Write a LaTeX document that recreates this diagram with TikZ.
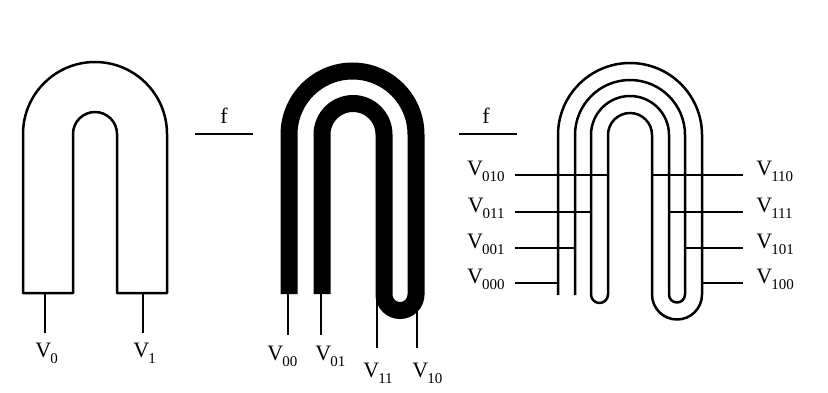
\documentclass[tikz,border=0pt]{standalone}
\usepackage{fontspec}
\setmainfont{Liberation Serif}
\usetikzlibrary{positioning}
\newcommand{\Vn}[1]{V\kern-0.5pt\raisebox{-3pt}{\fontsize{7.5}{9}\selectfont #1}}

\begin{document}
\begin{tikzpicture}[
    x=0.5pt, y=0.5pt,
    outline/.style={line width=1.25pt, line join=round},
    band/.style={line width=8.5pt},
    lead/.style={line width=0.8pt},
    vlabel/.style={inner sep=0pt, font=\fontsize{11}{13}\selectfont},
    maparrow/.style={line width=0.9pt},
]
\useasboundingbox (0,0) rectangle (828,392);

% plain strip
\draw[outline] (23,99) -- (23,258) arc[start angle=180, end angle=0, radius=72] -- (167,99) -- (117,99)
    -- (117,258) arc[start angle=0, end angle=180, radius=22] -- (73,99) -- cycle;
\coordinate (t0) at (45,99);   \coordinate (e0) at (45,59);
\coordinate (t1) at (143,99);  \coordinate (e1) at (143,59);
\node[vlabel, anchor=base west] (v0) at (35,35) {\Vn{0}};
\node[vlabel, anchor=base west] (v1) at (133,35) {\Vn{1}};
\draw[lead] (t0) -- (e0);
\draw[lead] (t1) -- (e1);

% first f
\node[vlabel, anchor=base] (f1) at (224,269) {f};
\coordinate (f1a) at (195,258); \coordinate (f1b) at (253,258);
\draw[maparrow] (f1a) -- (f1b);

% folded strip
\draw[band] (289,98) -- (289,257.5) arc[start angle=180, end angle=0, radius=63.5] -- (416,97.5)
    arc[start angle=0, end angle=-180, radius=16] -- (384,257.5)
    arc[start angle=0, end angle=180, radius=31] -- (322,98);
\coordinate (t00) at (288,98);  \coordinate (e00) at (288,57);
\coordinate (t01) at (321,98);  \coordinate (e01) at (321,57);
\coordinate (t11) at (377,97);  \coordinate (e11) at (377,44);
\coordinate (t10) at (417,97);  \coordinate (e10) at (417,44);
\node[vlabel, anchor=base west] (v00) at (267,32) {\Vn{00}};
\node[vlabel, anchor=base west] (v01) at (315,32) {\Vn{01}};
\node[vlabel, anchor=base west] (v11) at (363,15) {\Vn{11}};
\node[vlabel, anchor=base west] (v10) at (412,15) {\Vn{10}};
\draw[lead] (t00) -- (e00);
\draw[lead] (t01) -- (e01);
\draw[lead] (t11) -- (e11);
\draw[lead] (t10) -- (e10);

% second f
\node[vlabel, anchor=base] (f2) at (486,269) {f};
\coordinate (f2a) at (459,258); \coordinate (f2b) at (517,258);
\draw[maparrow] (f2a) -- (f2b);

% folded outline
\draw[outline] (558,97) -- (558,257) arc[start angle=180, end angle=0, radius=72] -- (702,97.5)
    arc[start angle=0, end angle=-180, radius=25] -- (652,257)
    arc[start angle=0, end angle=180, radius=22] -- (608,97.5)
    arc[start angle=0, end angle=-180, radius=8.5] -- (591,257)
    arc[start angle=180, end angle=0, radius=39] -- (669,97.5)
    arc[start angle=180, end angle=360, radius=8] -- (685,257)
    arc[start angle=0, end angle=180, radius=55] -- (575,97);

\node[vlabel, anchor=base east] (v010) at (505,217) {\Vn{010}};
\node[vlabel, anchor=base east] (v011) at (505,180) {\Vn{011}};
\node[vlabel, anchor=base east] (v001) at (505,144) {\Vn{001}};
\node[vlabel, anchor=base east] (v000) at (505,109) {\Vn{000}};
\node[vlabel, anchor=base west] (v110) at (756,217) {\Vn{110}};
\node[vlabel, anchor=base west] (v111) at (756,180) {\Vn{111}};
\node[vlabel, anchor=base west] (v101) at (756,144) {\Vn{101}};
\node[vlabel, anchor=base west] (v100) at (756,109) {\Vn{100}};

\coordinate (p010) at (608,217);  \coordinate (p110) at (652,217);
\coordinate (p011) at (591,180);  \coordinate (p111) at (669,180);
\coordinate (p001) at (575,144);  \coordinate (p101) at (685,144);
\coordinate (p000) at (558,109);  \coordinate (p100) at (702,109);

\draw[lead] ([xshift=5pt]v010.base east) -- (p010);
\draw[lead] ([xshift=5pt]v011.base east) -- (p011);
\draw[lead] ([xshift=5pt]v001.base east) -- (p001);
\draw[lead] ([xshift=5pt]v000.base east) -- (p000);
\draw[lead] (p110) -- ([xshift=-6.5pt]v110.base west);
\draw[lead] (p111) -- ([xshift=-6.5pt]v111.base west);
\draw[lead] (p101) -- ([xshift=-6.5pt]v101.base west);
\draw[lead] (p100) -- ([xshift=-6.5pt]v100.base west);
\end{tikzpicture}
\end{document}
